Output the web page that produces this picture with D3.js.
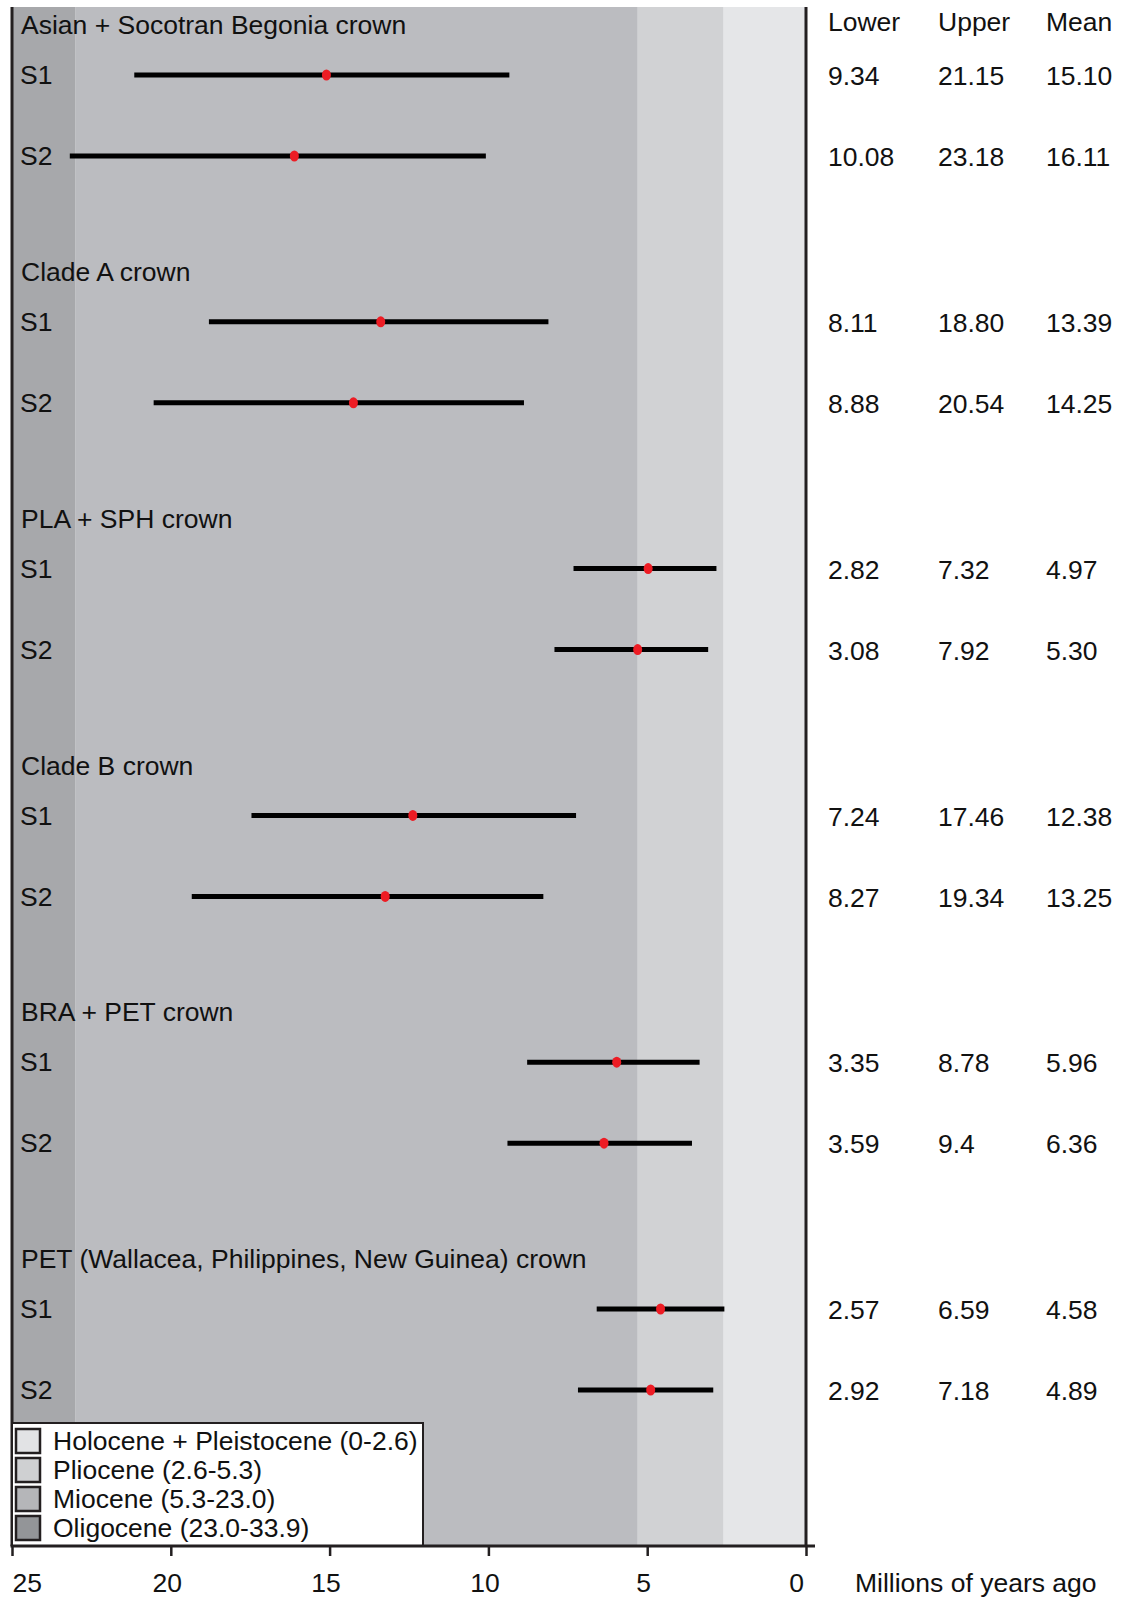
<!DOCTYPE html>
<html lang="en">
<head>
  <meta charset="utf-8" />
  <title>Divergence times</title>
  <script src="https://cdn.jsdelivr.net/npm/d3@7"></script>
  <style type="text/css">
    body { margin: 0; background: white; }
    text { font-family: "Liberation Sans", Arial, sans-serif; font-size: 26.5px; fill: #111; }
  </style>
</head>
<body>
<script type="text/javascript">

// clades, each with an S1 and S2 estimate (millions of years ago)
var groups = ["Asian + Socotran Begonia crown", "Clade A crown", "PLA + SPH crown",
              "Clade B crown", "BRA + PET crown", "PET (Wallacea, Philippines, New Guinea) crown"];
var series = ["S1", "S2"];
var lower = [["9.34", "10.08"], ["8.11", "8.88"], ["2.82", "3.08"],
             ["7.24", "8.27"], ["3.35", "3.59"], ["2.57", "2.92"]];
var upper = [["21.15", "23.18"], ["18.80", "20.54"], ["7.32", "7.92"],
             ["17.46", "19.34"], ["8.78", "9.4"], ["6.59", "7.18"]];
var mean  = [["15.10", "16.11"], ["13.39", "14.25"], ["4.97", "5.30"],
             ["12.38", "13.25"], ["5.96", "6.36"], ["4.58", "4.89"]];
var columns = ["Lower", "Upper", "Mean"];

var epochNames = ["Holocene + Pleistocene (0-2.6)", "Pliocene (2.6-5.3)",
                  "Miocene (5.3-23.0)", "Oligocene (23.0-33.9)"];
var epochStart = [0, 2.6, 5.3, 23.0];
var epochEnd = [2.6, 5.3, 23.0, 33.9];
var xTicks = [25, 20, 15, 10, 5, 0];

var w = 1124, h = 1600;
var plotTop = 7, plotBottom = 1546;
var bandColor = ["#e5e6e8", "#d1d2d4", "#bbbcc0", "#a7a8ab"];
var swatchColor = ["#e2e3e5", "#cfd0d2", "#b5b6b9", "#939598"];

var x = d3.scaleLinear().domain([25, 0]).range([12, 806]);
var groupY = d3.scaleLinear().domain([0, 1]).range([75, 321.8]);
var rowOffset = [0, 81];

var rows = [];
groups.forEach(function(g, i) {
  series.forEach(function(s, j) {
    rows.push({g: i, s: s, y: groupY(i) + rowOffset[j],
               lo: lower[i][j], hi: upper[i][j], mean: mean[i][j]});
  });
});

var svg = d3.select("body").append("svg")
  .attr("width", w).attr("height", h);

// epoch bands
var epochs = epochNames.map(function(n, i) {
  return {name: n, a: epochStart[i], b: Math.min(epochEnd[i], 25), i: i};
});
svg.selectAll("rect.band")
  .data(epochs)
  .enter().append("rect")
  .attr("class", "band")
  .attr("x", function(d) { return x(d.b); })
  .attr("width", function(d) { return x(d.a) - x(d.b); })
  .attr("y", plotTop)
  .attr("height", plotBottom - plotTop)
  .attr("fill", function(d) { return bandColor[d.i]; });

// group titles
svg.selectAll("text.title")
  .data(groups)
  .enter().append("text")
  .attr("class", "title")
  .attr("x", 21)
  .attr("y", function(d, i) { return groupY(i) - 50; })
  .attr("dy", "0.35em")
  .text(function(d) { return d; });

// row labels
svg.selectAll("text.row")
  .data(rows)
  .enter().append("text")
  .attr("class", "row")
  .attr("x", 20)
  .attr("y", function(d) { return d.y; })
  .attr("dy", "0.35em")
  .text(function(d) { return d.s; });

// interval bars
svg.selectAll("line.bar")
  .data(rows)
  .enter().append("line")
  .attr("class", "bar")
  .attr("x1", function(d) { return x(+d.hi); })
  .attr("x2", function(d) { return x(+d.lo); })
  .attr("y1", function(d) { return d.y; })
  .attr("y2", function(d) { return d.y; })
  .attr("stroke", "black")
  .attr("stroke-width", 5);

svg.selectAll("ellipse.mean")
  .data(rows)
  .enter().append("ellipse")
  .attr("class", "mean")
  .attr("cx", function(d) { return x(+d.mean); })
  .attr("cy", function(d) { return d.y; })
  .attr("rx", 4.5)
  .attr("ry", 5.5)
  .attr("fill", "#ed1c24");

// table on the right
var colX = [828, 938, 1046];
svg.selectAll("text.head")
  .data(columns)
  .enter().append("text")
  .attr("class", "head")
  .attr("x", function(d, i) { return colX[i]; })
  .attr("y", 22)
  .attr("dy", "0.35em")
  .text(function(d) { return d; });

rows.forEach(function(r) {
  [r.lo, r.hi, r.mean].forEach(function(v, k) {
    svg.append("text")
      .attr("x", colX[k])
      .attr("y", r.y + 1)
      .attr("dy", "0.35em")
      .text(v);
  });
});

// frame lines
svg.append("line")
  .attr("x1", x(25)).attr("x2", x(25)).attr("y1", plotTop).attr("y2", plotBottom)
  .attr("stroke", "#231f20").attr("stroke-width", 3);
svg.append("line")
  .attr("x1", x(0)).attr("x2", x(0)).attr("y1", plotTop).attr("y2", plotBottom)
  .attr("stroke", "#231f20").attr("stroke-width", 3);

// legend
var leg = svg.append("g");
leg.append("rect")
  .attr("x", 12).attr("y", 1423)
  .attr("width", 411).attr("height", plotBottom - 1423)
  .attr("fill", "white").attr("stroke", "#231f20").attr("stroke-width", 2);
var legItem = leg.selectAll("g.item")
  .data(epochs)
  .enter().append("g")
  .attr("class", "item")
  .attr("transform", function(d, i) { return "translate(0," + (1441 + i * 29) + ")"; });
legItem.append("rect")
  .attr("x", 16).attr("y", -12)
  .attr("width", 24).attr("height", 24)
  .attr("fill", function(d) { return swatchColor[d.i]; })
  .attr("stroke", "#231f20").attr("stroke-width", 2.5);
legItem.append("text")
  .attr("x", 53)
  .attr("dy", "0.35em")
  .text(function(d) { return d.name; });

// x axis
var xAxis = d3.axisBottom(x)
  .tickValues(xTicks)
  .tickSize(10)
  .tickSizeOuter(0);
var ax = svg.append("g")
  .attr("transform", "translate(0," + plotBottom + ")")
  .call(xAxis);
ax.select(".domain").remove();
ax.selectAll(".tick line").attr("stroke", "#231f20").attr("stroke-width", 2.5);
ax.selectAll(".tick text")
  .attr("y", 46).attr("dy", 0)
  .attr("dx", function(d) { return d === 0 ? -10 : (d === 25 ? 0 : -4); })
  .attr("text-anchor", function(d) { return d === 25 ? "start" : "middle"; })
  .style("font-size", "26.5px")
  .style("font-family", "'Liberation Sans', Arial, sans-serif")
  .attr("fill", "#111");
svg.append("line")
  .attr("x1", x(25) - 1.5).attr("x2", 815)
  .attr("y1", plotBottom).attr("y2", plotBottom)
  .attr("stroke", "#231f20").attr("stroke-width", 3);

svg.append("text")
  .attr("x", 855)
  .attr("y", 1592)
  .text("Millions of years ago");

</script>
</body>
</html>
